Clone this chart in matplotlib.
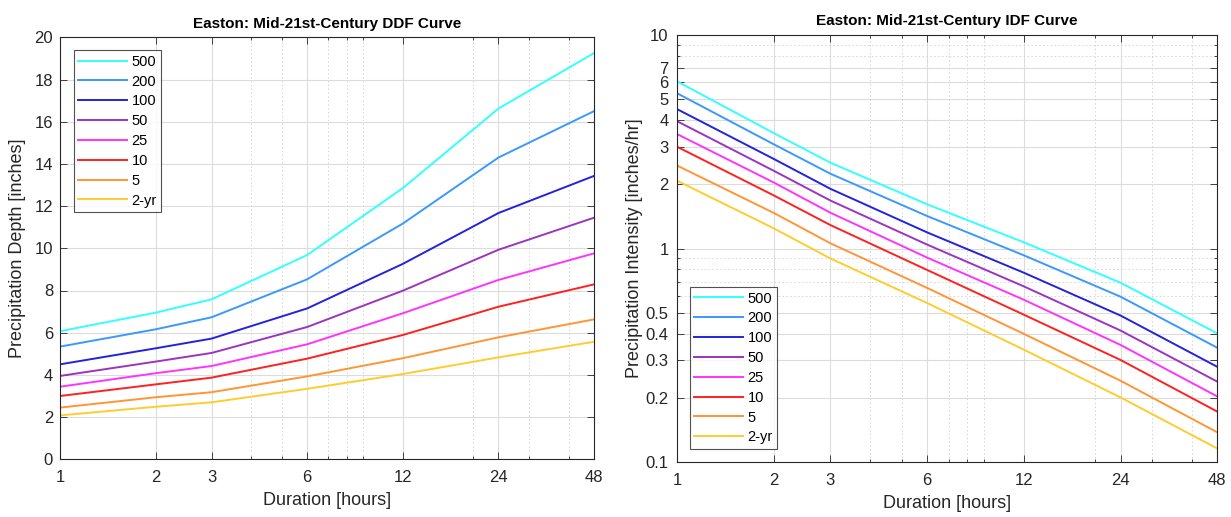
import matplotlib
matplotlib.use("Agg")
import matplotlib.pyplot as plt
from matplotlib.ticker import FixedLocator, FixedFormatter, NullFormatter
import numpy as np

plt.rcParams['font.family'] = ['Liberation Sans', 'DejaVu Sans']

durations = [1, 2, 3, 6, 12, 24, 48]
labels = ['500', '200', '100', '50', '25', '10', '5', '2-yr']
depth_500 = [6.07, 6.95, 7.58, 9.68, 12.85, 16.62, 19.25]
depth_200 = [5.34, 6.16, 6.73, 8.53, 11.17, 14.30, 16.50]
depth_100 = [4.50, 5.26, 5.72, 7.15, 9.26, 11.67, 13.43]
depth_50 = [3.95, 4.63, 5.04, 6.27, 7.99, 9.93, 11.45]
depth_25 = [3.44, 4.08, 4.42, 5.45, 6.92, 8.50, 9.76]
depth_10 = [3.00, 3.55, 3.87, 4.77, 5.89, 7.23, 8.29]
depth_5 = [2.45, 2.94, 3.18, 3.93, 4.79, 5.78, 6.63]
depth_2 = [2.08, 2.49, 2.70, 3.34, 4.04, 4.83, 5.57]
depths = [depth_500, depth_200, depth_100, depth_50, depth_25, depth_10, depth_5, depth_2]
colors = ['#33ffff', '#3a98ff', '#2323dd', '#9b34c0', '#ff33ff', '#ff2020', '#ff9535', '#ffcc2e']

x_ticks = [1, 2, 3, 6, 12, 24, 48]
ddf_yticks = [0, 2, 4, 6, 8, 10, 12, 14, 16, 18, 20]
idf_yticks = [0.1, 0.2, 0.3, 0.4, 0.5, 1, 2, 3, 4, 5, 6, 7, 10]
idf_yticklabels = ['0.1', '0.2', '0.3', '0.4', '0.5', '1', '2', '3', '4', '5', '6', '7', '10']

W, H = 1231, 517
fig = plt.figure(figsize=(W / 100, H / 100), dpi=100)
ax1 = fig.add_axes([60 / W, 1 - 459.3 / H, (594 - 60) / W, (459.3 - 37.3) / H])
ax2 = fig.add_axes([677 / W, 1 - 462.3 / H, (1217.3 - 677) / W, (462.3 - 35) / H])

txt = '#262626'
edge = '#262626'
dur = np.array(durations, dtype=float)

def style(ax):
    ax.set_xscale('log')
    ax.set_xlim(1, 48)
    ax.xaxis.set_major_locator(FixedLocator(x_ticks))
    ax.xaxis.set_major_formatter(FixedFormatter([str(t) for t in x_ticks]))
    minors = [m * 10 ** e for e in range(0, 2) for m in range(2, 10)]
    ax.xaxis.set_minor_locator(FixedLocator(minors))
    ax.xaxis.set_minor_formatter(NullFormatter())
    ax.tick_params(which='both', direction='in', top=True, right=True,
                   colors=edge, labelcolor=txt, labelsize=12, width=0.6)
    ax.tick_params(which='major', length=5)
    ax.tick_params(axis='x', which='major', pad=8)
    ax.tick_params(axis='y', which='major', pad=5)
    ax.tick_params(which='minor', length=2.5)
    ax.grid(True, which='major', color='#dcdcdc', linewidth=0.8, linestyle='-')
    ax.grid(True, which='minor', color='#d4d4d4', linewidth=0.7, linestyle=(0, (1.5, 2.5)))
    ax.set_axisbelow(True)
    for s in ax.spines.values():
        s.set_color(edge)
        s.set_linewidth(0.8)
    ax.set_xlabel('Duration [hours]', fontsize=13, color=txt, labelpad=5)

leg_kw = dict(fontsize=10.5, frameon=True, fancybox=False, edgecolor='#262626',
              handlelength=3.3, labelspacing=0.4, borderpad=0.3,
              handletextpad=0.35, borderaxespad=0)

# DDF
for d, c, l in zip(depths, colors, labels):
    ax1.plot(dur, d, color=c, lw=1.4, label=l)
style(ax1)
ax1.set_ylim(0, 20)
ax1.set_yticks(ddf_yticks)
ax1.set_ylabel('Precipitation Depth [inches]', fontsize=13, color=txt, labelpad=6)
ax1.set_title('Easton: Mid-21st-Century DDF Curve', fontsize=11, fontweight='bold', color='black', pad=7)
leg1 = ax1.legend(loc='upper left', bbox_to_anchor=(14 / 534, 1 - 13 / 422), **leg_kw)
leg1.get_frame().set_linewidth(0.8)

# IDF
for d, c, l in zip(depths, colors, labels):
    ax2.plot(dur, np.array(d) / dur, color=c, lw=1.4, label=l)
style(ax2)
ax2.set_yscale('log')
ax2.set_ylim(0.1, 10)
ax2.yaxis.set_major_locator(FixedLocator(idf_yticks))
ax2.yaxis.set_major_formatter(FixedFormatter(idf_yticklabels))
yminors = [m * 10 ** e for e in range(-1, 1) for m in range(2, 10)]
ax2.yaxis.set_minor_locator(FixedLocator(yminors))
ax2.yaxis.set_minor_formatter(NullFormatter())
ax2.tick_params(which='both', direction='in', top=True, right=True)
ax2.tick_params(axis='y', which='major', pad=6)
ax2.set_ylabel('Precipitation Intensity [inches/hr]', fontsize=13, color=txt, labelpad=2)
ax2.set_title('Easton: Mid-21st-Century IDF Curve', fontsize=11, fontweight='bold', color='black', pad=7)
leg2 = ax2.legend(loc='lower left', bbox_to_anchor=(13 / 540, 13.5 / 427), **leg_kw)
leg2.get_frame().set_linewidth(0.8)

fig.savefig('out.png', dpi=100, facecolor='white')
